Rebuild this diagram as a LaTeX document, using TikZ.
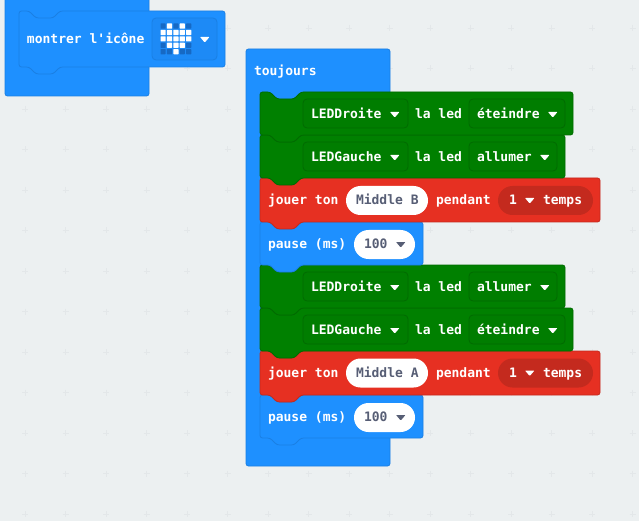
\documentclass[tikz,border=0pt]{standalone}
\usepackage{fontspec}
\setmonofont{DejaVu Sans Mono}
\definecolor{bg}{HTML}{ECF0F1}
\definecolor{plusc}{HTML}{E3E7E9}
\definecolor{bl}{HTML}{1E90FF}
\definecolor{bld}{HTML}{1A7FE3}
\definecolor{blf}{HTML}{1D8AF6}
\definecolor{led}{HTML}{1669C4}
\definecolor{gr}{HTML}{008000}
\definecolor{grd}{HTML}{006B00}
\definecolor{rd}{HTML}{E63022}
\definecolor{rdd}{HTML}{C42A1E}
\definecolor{pilltxt}{HTML}{575E75}
\tikzset{
  x=1pt,y=-1pt,
  bluebk/.style={fill=bl,draw=bld,line width=.8pt,rounded corners=2.5pt},
  greenbk/.style={fill=gr,draw=grd,line width=.8pt,rounded corners=2.5pt},
  redbk/.style={fill=rd,draw=rdd,line width=.8pt,rounded corners=2.5pt},
  greenfield/.style={draw=grd,fill=gr!98!black,line width=.8pt,rounded corners=4pt},
  bluefield/.style={draw=bld,fill=blf,line width=.8pt,rounded corners=4pt},
  whitepill/.style={fill=white,rounded corners=14.5pt},
  redpill/.style={fill=rdd,rounded corners=14.5pt},
  lbl/.style={anchor=base west,inner sep=0pt,outer sep=0pt,text=white,
    font=\ttfamily\bfseries\fontsize{13}{15}\selectfont},
  pilllbl/.style={lbl,text=pilltxt},
  caretw/.style={fill=white,rounded corners=.7pt},
  caretd/.style={fill=pilltxt,rounded corners=.7pt},
}
% left, top, right, bottom, style
\newcommand{\stackblk}[5]{%
  \draw[#5] (#1,#2) -- ({#1+10},#2) -- ({#1+17},{#2+7}) -- ({#1+34},{#2+7}) -- ({#1+41},#2)
    -- (#3,#2) -- (#3,#4) -- ({#1+41},#4) -- ({#1+34},{#4+7}) -- ({#1+17},{#4+7}) -- ({#1+10},#4)
    -- (#1,#4) -- cycle;}
% left x, top y, style
\newcommand{\caretat}[3]{\fill[#3] (#1,#2) -- ({#1+9.5},#2) -- ({#1+4.75},{#2+5.5}) -- cycle;}
\begin{document}
\begin{tikzpicture}
\useasboundingbox (0,0) rectangle (639,521);
\clip (0,0) rectangle (639,521);
\fill[bg] (0,0) rectangle (639,521);
\foreach \i in {0,...,15} \foreach \j in {0,...,12} {
  \draw[plusc,line width=.8pt] ({25+40.5*\i-3},{28+40.5*\j}) -- ++(6,0) ({25+40.5*\i},{28+40.5*\j-3}) -- ++(0,6);
}
% function block
\draw[bluebk] (5,-6) -- (149,-6) -- (149,96) -- (5,96) -- cycle;
\stackblk{19}{11}{225}{67}{bluebk}
\draw[bluefield] (152,18) rectangle (217,60);
\foreach \r/\c/\v in {0/0/0,0/1/1,0/2/0,0/3/1,0/4/0,
                      1/0/1,1/1/1,1/2/1,1/3/1,1/4/1,
                      2/0/1,2/1/1,2/2/1,2/3/1,2/4/1,
                      3/0/0,3/1/1,3/2/1,3/3/1,3/4/0,
                      4/0/0,4/1/0,4/2/1,4/3/0,4/4/0} {
  \ifnum\v=1 \fill[white,rounded corners=.5pt] ({160.5+6.4*\c},{23.5+6.4*\r}) rectangle ++(5.2,5.2);
  \else \fill[led,rounded corners=.5pt] ({160.5+6.4*\c},{23.5+6.4*\r}) rectangle ++(5.2,5.2);\fi
}
\caretat{200}{37}{caretw}
\node[lbl] (montrer) at (27,44) {montrer l'icône};
% forever block
\draw[bluebk] (246,49) -- (390,49) -- (390,466) -- (246,466) -- cycle;
% stack, bottom to top
\stackblk{260}{395}{423}{438}{bluebk}
\stackblk{260}{351}{600}{395}{redbk}
\stackblk{260}{308}{573}{351}{greenbk}
\stackblk{260}{265}{565}{308}{greenbk}
\stackblk{260}{222}{423}{265}{bluebk}
\stackblk{260}{178}{600}{222}{redbk}
\stackblk{260}{135}{565}{178}{greenbk}
\stackblk{260}{92}{573}{135}{greenbk}
\node[lbl] (toujours) at (254,75.5) {toujours};
% row 1
\draw[greenfield] (303,99) rectangle (408,128);
\draw[greenfield] (469,99) rectangle (565,128);
\node[lbl] (d1) at (311,118.5) {LEDDroite};
\caretat{390}{112}{caretw}
\node[lbl] (l1) at (415,118.5) {la led};
\node[lbl] (e1) at (477,118.5) {éteindre};
\caretat{548}{112}{caretw}
% row 2
\draw[greenfield] (303,142) rectangle (408,171);
\draw[greenfield] (469,142) rectangle (557,171);
\node[lbl] (g1) at (311,161.5) {LEDGauche};
\caretat{390}{155}{caretw}
\node[lbl] (l2) at (415,161.5) {la led};
\node[lbl] (a1) at (477,161.5) {allumer};
\caretat{540}{155}{caretw}
% row 3
\fill[whitepill] (346,186) rectangle (428,215);
\fill[redpill] (498,186) rectangle (593,215);
\node[lbl] (j1) at (268,205) {jouer ton};
\node[pilllbl] (m1) at (356,205) {Middle B};
\node[lbl] (p1) at (436,205) {pendant};
\node[lbl] (n1) at (509,205) {1};
\caretat{525}{198}{caretw}
\node[lbl] (t1) at (543,205) {temps};
% row 4
\fill[whitepill] (354,230) rectangle (415,259);
\node[lbl] (s1) at (268,248) {pause (ms)};
\node[pilllbl] (v1) at (364,248) {100};
\caretat{396}{242}{caretd}
% row 5
\draw[greenfield] (303,272) rectangle (408,301);
\draw[greenfield] (469,272) rectangle (557,301);
\node[lbl] (d2) at (311,291) {LEDDroite};
\caretat{390}{285}{caretw}
\node[lbl] (l3) at (415,291) {la led};
\node[lbl] (a2) at (477,291) {allumer};
\caretat{540}{285}{caretw}
% row 6
\draw[greenfield] (303,315) rectangle (408,344);
\draw[greenfield] (469,315) rectangle (565,344);
\node[lbl] (g2) at (311,334) {LEDGauche};
\caretat{390}{328}{caretw}
\node[lbl] (l4) at (415,334) {la led};
\node[lbl] (e2) at (477,334) {éteindre};
\caretat{548}{328}{caretw}
% row 7
\fill[whitepill] (346,358.5) rectangle (428,387.5);
\fill[redpill] (498,358.5) rectangle (593,387.5);
\node[lbl] (j2) at (268,377.5) {jouer ton};
\node[pilllbl] (m2) at (356,377.5) {Middle A};
\node[lbl] (p2) at (436,377.5) {pendant};
\node[lbl] (n2) at (509,377.5) {1};
\caretat{525}{370.5}{caretw}
\node[lbl] (t2) at (543,377.5) {temps};
% row 8
\fill[whitepill] (354,403) rectangle (415,432);
\node[lbl] (s2) at (268,421) {pause (ms)};
\node[pilllbl] (v2) at (364,421) {100};
\caretat{396}{415}{caretd}
\end{tikzpicture}
\end{document}
